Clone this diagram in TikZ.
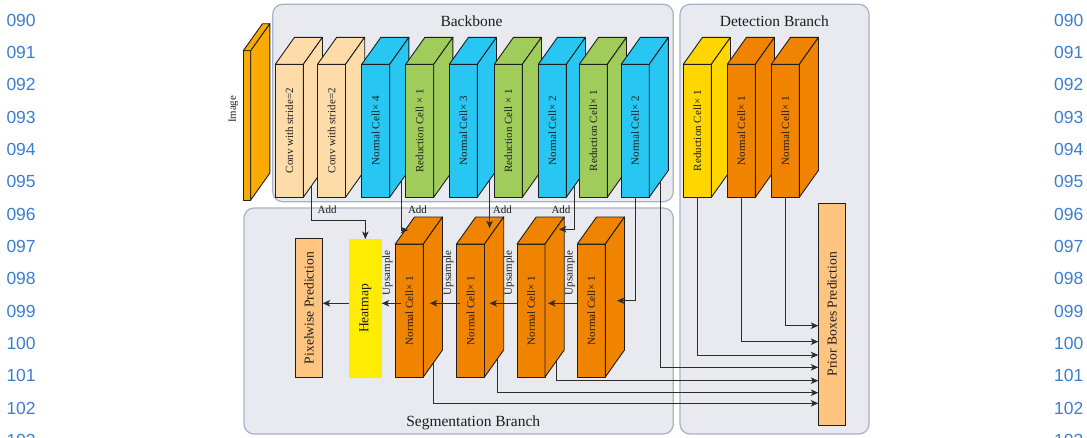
\documentclass[tikz,border=0pt]{standalone}
\usepackage{fontspec}
\setmainfont{Liberation Serif}
\newfontfamily\numfont{Liberation Sans}
\usepackage{graphicx}
\usetikzlibrary{calc,arrows.meta}

\definecolor{panelfill}{RGB}{232,234,240}
\definecolor{panelline}{RGB}{168,178,198}
\definecolor{convc}{RGB}{254,220,170}
\definecolor{normc}{RGB}{40,198,242}
\definecolor{redc}{RGB}{160,204,92}
\definecolor{orac}{RGB}{240,131,0}
\definecolor{goldc}{RGB}{255,214,0}
\definecolor{heatc}{RGB}{255,236,0}
\definecolor{predc}{RGB}{255,196,128}
\definecolor{imgc}{RGB}{250,170,0}
\definecolor{numc}{RGB}{58,126,212}
\definecolor{wirec}{RGB}{45,45,45}
\definecolor{inkc}{RGB}{30,30,30}

% depth of the extruded blocks
\def\cubdx{19.2}
\def\cubdy{27}

\tikzset{
  panel/.style={draw=panelline, fill=panelfill, line width=1.2pt, rounded corners=10pt},
  face/.style={draw=inkc, line width=0.9pt, line join=round},
  cellbox/.style={face, fill=#1, inner sep=0pt, outer sep=0pt, anchor=north west,
                  font=\fontsize{11}{13}\selectfont, text=inkc},
  flatbox/.style={inner sep=0pt, outer sep=0pt, anchor=north west, fill=#1,
                  font=\fontsize{13.6}{16}\selectfont, text=inkc},
  wire/.style={draw=wirec, line width=0.9pt},
  arr/.style={wire, -{Stealth[length=7.5pt,width=6.5pt,inset=2pt]}},
  small/.style={font=\fontsize{11}{13}\selectfont, text=inkc, inner sep=0pt},
  title/.style={font=\fontsize{15.5}{18}\selectfont, text=inkc, inner sep=0pt, anchor=base},
  linenum/.style={font=\numfont\fontsize{17.5}{20}\selectfont, text=numc, inner sep=0pt}
}

% name, colour, x, y, width, height, text
\newcommand\cuboid[7]{%
  \node[cellbox=#2, minimum width=#5pt, minimum height=#6pt] (#1) at (#3,#4) {\rotatebox{90}{#7}};
  \draw[face, fill=#2] (#1.north west) -- ++(\cubdx,-\cubdy) -- ++(#5,0) -- (#1.north east) -- cycle;
  \draw[face, fill=#2] (#1.north east) -- ++(\cubdx,-\cubdy) -- ++(0,#6) -- (#1.south east) -- cycle;
}

\begin{document}
\begin{tikzpicture}[x=1pt, y=-1pt]
\fill[white] (0,0) rectangle (1087,437);
\useasboundingbox (0,0) rectangle (1087,437);

% line numbers in both margins
\foreach \n [count=\k from 0] in {090,091,092,093,094,095,096,097,098,099,100,101,102,103} {
  \node[linenum, anchor=west] (ln\k) at (6.3, 20.3+32.33*\k) {\n};
  \node[linenum, anchor=west] (rn\k) at (1054, 20.3+32.33*\k) {\n};
}

% panels
\draw[panel] (272.7,4.3) rectangle (673.3,201.7);
\draw[panel] (680,4.3) rectangle (869,434);
\draw[panel] (244,208) rectangle (673.3,434);

\node[title] (tbb) at (471.5,26.5) {Backbone};
\node[title] (tdet) at (774.3,26.5) {Detection Branch};
\node[title] (tseg) at (473.2,426.7) {Segmentation Branch};

% input
\cuboid{img}{imgc}{243.3}{50.7}{7.4}{149.3}{}
\node[small, font=\fontsize{10.8}{13}\selectfont] (imglbl) at (233.5,109.5) {\rotatebox{90}{Image}};

% backbone
\cuboid{c1}{convc}{275.3}{64.3}{28}{133}{Conv with stride=2}
\cuboid{c2}{convc}{317.5}{64.3}{28}{133}{Conv with stride=2}
\cuboid{n4}{normc}{361.7}{64.3}{28}{133}{Normal Cell× 4}
\cuboid{r1}{redc}{405.7}{64.3}{28}{133}{Reduction Cell × 1}
\cuboid{n3}{normc}{449.3}{64.3}{28}{133}{Normal Cell× 3}
\cuboid{r2}{redc}{494.3}{64.3}{28}{133}{Reduction Cell × 1}
\cuboid{n2}{normc}{538.3}{64.3}{28}{133}{Normal Cell× 2}
\cuboid{r3}{redc}{579.3}{64.3}{28}{133}{Reduction Cell× 1}
\cuboid{n2b}{normc}{621.2}{64.3}{28}{133}{Normal Cell× 2}

% detection branch
\cuboid{d1}{goldc}{683.3}{64.3}{28}{133}{Reduction Cell× 1}
\cuboid{d2}{orac}{727.3}{64.3}{28}{133}{Normal Cell× 1}
\cuboid{d3}{orac}{771.3}{64.3}{28}{133}{Normal Cell× 1}
\node[flatbox=predc, draw=inkc, line width=0.9pt, minimum width=27.4pt, minimum height=221.7pt] (prior) at (818.3,203.3) {\rotatebox{90}{Prior Boxes Prediction}};

% segmentation branch
\cuboid{s1}{orac}{395.3}{244}{28}{133}{Normal Cell× 1}
\cuboid{s2}{orac}{456.5}{244}{28}{133}{Normal Cell× 1}
\cuboid{s3}{orac}{517}{244}{28}{133}{Normal Cell× 1}
\cuboid{s4}{orac}{577.3}{244}{28}{133}{Normal Cell× 1}
\node[flatbox=heatc, minimum width=32.7pt, minimum height=138.7pt] (heat) at (349,239) {\rotatebox{90}{Heatmap}};
\node[flatbox=predc, draw=inkc, line width=0.9pt, minimum width=27.4pt, minimum height=138.6pt] (pix) at (295.3,238.7) {\rotatebox{90}{Pixelwise Prediction}};

% skip connections from the backbone
\draw[arr] ($(c1.south east)+0.44*(\cubdx,-\cubdy)$) |- ($(heat.north)+(0,-18.3)$) -- (heat.north);
\draw[arr] ($(n4.south east)+0.6*(\cubdx,-\cubdy)$) |- ($(s1.north west)+(13,-14)$);
\coordinate (t3) at ($(s2.north east)+(5,-15.7)$);
\coordinate (p3) at ($(n3.south east)+0.64*(\cubdx,-\cubdy)$);
\draw[arr] (p3) -- (p3 |- t3);
\draw[arr] ($(n2.south east)+0.41*(\cubdx,-\cubdy)$) |- ($(s3.north east)+(14,-14.7)$);
\draw[arr] (n2b.south) |- ($(s4.east)+(11.7,-9.8)$);

\node[small, anchor=base] (add1) at (327.2,213.3) {Add};
\node[small, anchor=base] (add2) at (417.5,213.3) {Add};
\node[small, anchor=base] (add3) at (502.3,213.3) {Add};
\node[small, anchor=base] (add4) at (561,213.3) {Add};

% upsampling path
\coordinate (hrow) at (0,303.3);
\draw[arr] (s4.west |- hrow) -- ($(s3.east |- hrow)+(3,0)$);
\draw[arr] ($(s3.west |- hrow)+(1,0)$) -- ($(s2.east |- hrow)+(5,0)$);
\draw[arr] ($(s2.west |- hrow)+(3,0)$) -- ($(s1.east |- hrow)+(6.5,0)$);
\draw[arr] ($(s1.west |- hrow)+(6,0)$) -- (heat.east |- hrow);
\draw[arr] (heat.west |- hrow) -- (pix.east |- hrow);

\node[small] (up1) at (387.5,272.8) {\rotatebox{90}{Upsample}};
\node[small] (up2) at (448.5,272.8) {\rotatebox{90}{Upsample}};
\node[small] (up3) at (509.2,272.8) {\rotatebox{90}{Upsample}};
\node[small] (up4) at (570,272.8) {\rotatebox{90}{Upsample}};

% feature maps feeding the prior boxes
\draw[arr] (d3.south) |- ($(prior.north west)+(0,122.4)$);
\draw[arr] (d2.south) |- ($(prior.north west)+(0,138.4)$);
\draw[arr] (d1.south) |- ($(prior.north west)+(0,151.7)$);
\draw[arr] ($(n2b.south east)+0.59*(\cubdx,-\cubdy)$) |- ($(prior.north west)+(0,164)$);
\draw[arr] ($(s3.south east)+0.59*(\cubdx,-\cubdy)$) |- ($(prior.north west)+(0,177.4)$);
\draw[arr] ($(s2.south east)+0.69*(\cubdx,-\cubdy)$) |- ($(prior.north west)+(0,189.4)$);
\draw[arr] ($(s1.south east)+0.52*(\cubdx,-\cubdy)$) |- ($(prior.north west)+(0,200)$);
\end{tikzpicture}
\end{document}
